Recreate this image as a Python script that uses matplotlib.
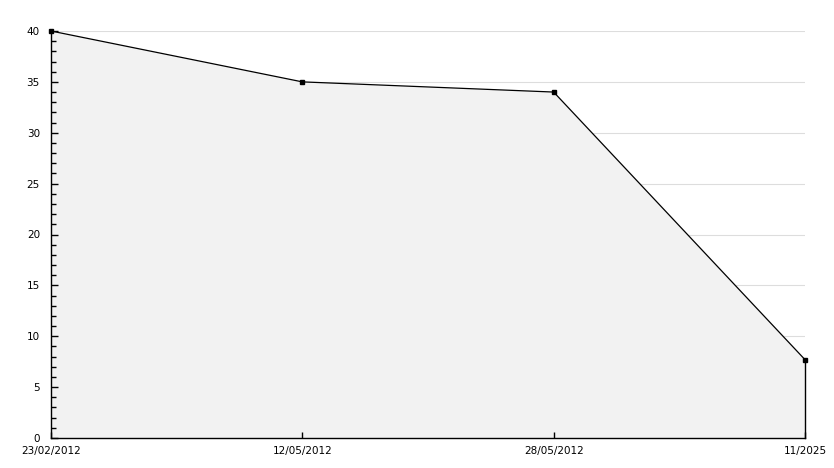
import matplotlib.pyplot as plt
from matplotlib.ticker import MultipleLocator

labels = ["23/02/2012", "12/05/2012", "28/05/2012", "11/2025"]
values = [40, 35, 34, 7.7]
xs = list(range(len(labels)))

fig = plt.figure(figsize=(8.34, 4.68), dpi=100)
ax = fig.add_axes([51 / 834, 30 / 468, 754 / 834, 407 / 468])

ax.set_xlim(0, len(labels) - 1)
ax.set_ylim(0, 40)
ax.yaxis.set_major_locator(MultipleLocator(5))
ax.yaxis.set_minor_locator(MultipleLocator(1))

# grid under the filled area, ticks stay on top
for yv in ax.get_yticks()[1:]:
    ax.axhline(yv, color="#dddddd", linewidth=0.8, zorder=0.2)

ax.fill_between(xs, values, 0, color="#f2f2f2", linewidth=0, zorder=0.5)
ax.plot(xs, values, color="black", linewidth=0.9, marker="s", markersize=3.5,
        clip_on=False, zorder=3)
ax.plot([xs[-1], xs[-1]], [0, values[-1]], color="black", linewidth=1,
        clip_on=False, zorder=3)

ax.set_xticks(xs)
ax.set_xticklabels(labels)
ax.tick_params(axis="both", labelsize=7.5, direction="in", length=4, width=1)
ax.tick_params(axis="y", which="major", direction="in", length=5)
ax.tick_params(axis="x", pad=6)
ax.tick_params(axis="y", pad=8)
ax.tick_params(axis="y", which="minor", direction="in", length=3.5, width=1)

for s in ["top", "right"]:
    ax.spines[s].set_visible(False)
ax.spines["left"].set_linewidth(1)
ax.spines["bottom"].set_linewidth(1)

plt.savefig("out.png", dpi=100)
